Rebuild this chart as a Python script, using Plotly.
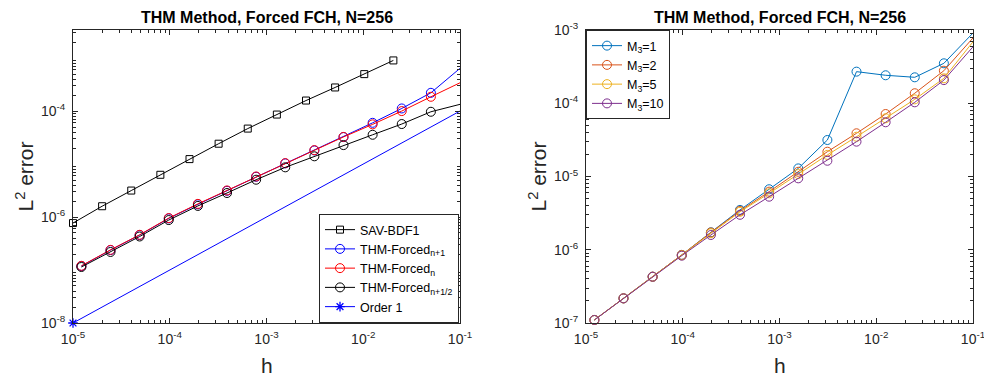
import plotly.graph_objects as go

W, H = 984, 376

# ---------------- data ----------------
h_thm = [1.220703125e-5, 2.44140625e-5, 4.8828125e-5, 9.765625e-5, 1.953125e-4,
         3.90625e-4, 7.8125e-4, 1.5625e-3, 3.125e-3, 6.25e-3, 1.25e-2, 2.5e-2, 5e-2, 1e-1]
h_sav = [1e-5, 2e-5, 4e-5, 8e-5, 1.6e-4, 3.2e-4, 6.4e-4, 1.28e-3, 2.56e-3,
         5.12e-3, 1.024e-2, 2.048e-2]

err_sav = [7.7e-7, 1.60e-6, 3.16e-6, 6.27e-6, 1.24e-5, 2.42e-5, 4.67e-5, 8.59e-5,
           1.58e-4, 2.79e-4, 4.98e-4, 9.03e-4]
err_np1 = [1.19e-7, 2.38e-7, 4.57e-7, 9.44e-7, 1.74e-6, 3.13e-6, 5.75e-6, 1.03e-5,
           1.81e-5, 3.23e-5, 6.0e-5, 1.12e-4, 2.21e-4, 6.4e-4]
err_n = [1.20e-7, 2.40e-7, 4.62e-7, 9.55e-7, 1.77e-6, 3.17e-6, 5.82e-6, 1.04e-5,
         1.83e-5, 3.25e-5, 5.61e-5, 1.0e-4, 1.86e-4, 3.42e-4]
err_nh = [1.14e-7, 2.19e-7, 4.29e-7, 8.77e-7, 1.62e-6, 2.84e-6, 5.06e-6, 8.67e-6,
          1.40e-5, 2.28e-5, 3.57e-5, 5.69e-5, 9.7e-5, 1.34e-4]
h_order1 = [1e-5, 1e-1]
err_order1 = [1e-8, 1e-4]

err_m1 = [1.10e-7, 2.17e-7, 4.29e-7, 8.5e-7, 1.73e-6, 3.5e-6, 6.7e-6, 1.29e-5,
          3.15e-5, 2.70e-4, 2.41e-4, 2.26e-4, 3.51e-4, 9.1e-4]
err_m2 = [1.10e-7, 2.17e-7, 4.29e-7, 8.5e-7, 1.72e-6, 3.4e-6, 6.21e-6, 1.16e-5,
          2.18e-5, 3.89e-5, 7.13e-5, 1.37e-4, 2.78e-4, 7.8e-4]
err_m5 = [1.10e-7, 2.17e-7, 4.28e-7, 8.4e-7, 1.68e-6, 3.3e-6, 5.9e-6, 1.08e-5,
          1.97e-5, 3.49e-5, 6.24e-5, 1.13e-4, 2.19e-4, 6.9e-4]
err_m10 = [1.10e-7, 2.17e-7, 4.28e-7, 8.3e-7, 1.59e-6, 3.0e-6, 5.3e-6, 9.44e-6,
           1.64e-5, 2.99e-5, 5.5e-5, 1.03e-4, 2.07e-4, 5.9e-4]

x_tick_vals = [1e-5, 1e-4, 1e-3, 1e-2, 1e-1]
x_tick_text = ["10<sup>-5</sup>", "10<sup>-4</sup>", "10<sup>-3</sup>", "10<sup>-2</sup>", "10<sup>-1</sup>"]
yl_tick_vals = [1e-8, 1e-6, 1e-4]
yl_tick_text = ["10<sup>-8</sup>", "10<sup>-6</sup>", "10<sup>-4</sup>"]
yr_tick_vals = [1e-7, 1e-6, 1e-5, 1e-4, 1e-3]
yr_tick_text = ["10<sup>-7</sup>", "10<sup>-6</sup>", "10<sup>-5</sup>", "10<sup>-4</sup>", "10<sup>-3</sup>"]

title_text = "THM Method, Forced FCH, N=256"

# ---------------- styling ----------------
FONT = "Liberation Sans, Arial, Helvetica, sans-serif"
AX = "#262626"


def minor_vals(lo, hi):
    out = []
    for d in range(lo, hi):
        for k in range(2, 10):
            out.append(k * 10.0 ** d)
    return out


fig = go.Figure()


def add(x, y, name, color, symbol, size, xa, ya, legend, lw=1.0, mlw=1.0):
    fig.add_trace(go.Scatter(
        x=x, y=y, name=name, mode="lines+markers",
        line=dict(color=color, width=lw),
        marker=dict(symbol=symbol, size=size, color=color,
                    line=dict(color=color, width=mlw)),
        xaxis=xa, yaxis=ya, legend=legend, cliponaxis=False))


add(h_sav, err_sav, "SAV-BDF1", "#000000", "square-open", 7, "x", "y", "legend")
add(h_thm, err_np1, "THM-Forced<sub>n+1</sub>", "#0000FF", "circle-open", 9, "x", "y", "legend")
add(h_thm, err_n, "THM-Forced<sub>n</sub>", "#FF0000", "circle-open", 9, "x", "y", "legend")
add(h_thm, err_nh, "THM-Forced<sub>n+1/2</sub>", "#000000", "circle-open", 9, "x", "y", "legend")
add(h_order1, err_order1, "Order 1", "#0000FF", "asterisk-open", 8, "x", "y", "legend", mlw=1.3)

add(h_thm, err_m1, "M<sub>3</sub>=1", "#0072BD", "circle-open", 9, "x2", "y2", "legend2")
add(h_thm, err_m2, "M<sub>3</sub>=2", "#D95319", "circle-open", 9, "x2", "y2", "legend2")
add(h_thm, err_m5, "M<sub>3</sub>=5", "#EDB120", "circle-open", 9, "x2", "y2", "legend2")
add(h_thm, err_m10, "M<sub>3</sub>=10", "#7E2F8E", "circle-open", 9, "x2", "y2", "legend2")


def axis(domain, anchor, rng, tv, tt, mlo, mhi, standoff=2):
    return dict(
        type="log", domain=domain, anchor=anchor, range=rng, automargin=False,
        tickmode="array", tickvals=tv, ticktext=tt,
        ticks="inside", ticklen=5, tickwidth=1, tickcolor=AX,
        minor=dict(tickmode="array", tickvals=minor_vals(mlo, mhi),
                   ticks="inside", ticklen=3, tickwidth=1, tickcolor=AX, showgrid=False),
        showline=True, linecolor=AX, linewidth=1, mirror="ticks",
        showgrid=False, zeroline=False,
        tickfont=dict(family=FONT, size=14, color=AX),
        ticklabelstandoff=standoff, ticklabeloverflow="allow",
    )


xl0, xl1 = 73 / W, 460 / W
xr0, xr1 = 586 / W, 973 / W
yb, yt = 1 - 323 / H, 1 - 30 / H

fig.update_layout(
    template="none",
    width=W, height=H, margin=dict(l=0, r=0, t=0, b=0, pad=0, autoexpand=False),
    paper_bgcolor="white", plot_bgcolor="white",
    font=dict(family=FONT, color="#000000"),
    xaxis=axis([xl0, xl1], "y", [-5, -1], x_tick_vals, x_tick_text, -5, -1, 3),
    yaxis=axis([yb, yt], "x", [-8, -2.47], yl_tick_vals, yl_tick_text, -8, -2, 4),
    xaxis2=axis([xr0, xr1], "y2", [-5, -1], x_tick_vals, x_tick_text, -5, -1, 3),
    yaxis2=axis([yb, yt], "x2", [-7, -3], yr_tick_vals, yr_tick_text, -7, -3, 4),
    legend=dict(x=459 / W, y=1 - 323 / H, xanchor="right", yanchor="bottom",
                bgcolor="white", bordercolor=AX, borderwidth=1,
                font=dict(family=FONT, size=12.5, color="#000000"),
                tracegroupgap=0),
    legend2=dict(x=586 / W, y=1 - 30 / H, xanchor="left", yanchor="top",
                 bgcolor="white", bordercolor=AX, borderwidth=1,
                 font=dict(family=FONT, size=12.5, color="#000000"),
                 tracegroupgap=0),
    showlegend=True,
)

ann = []
for cx in [(73 + 460) / 2, (586 + 973) / 2]:
    ann.append(dict(x=cx / W, y=1 - 17 / H, xref="paper", yref="paper",
                    text="<b>" + title_text + "</b>", showarrow=False,
                    xanchor="center", yanchor="middle",
                    font=dict(family=FONT, size=16, color="#000000")))
    ann.append(dict(x=cx / W, y=1 - 365 / H, xref="paper", yref="paper",
                    text="h", showarrow=False, xanchor="center", yanchor="middle",
                    font=dict(family=FONT, size=21, color=AX)))
for lx in [24, 537]:
    ann.append(dict(x=lx / W, y=1 - 176.5 / H, xref="paper", yref="paper",
                    text="L<sup>2</sup> error", showarrow=False, textangle=-90,
                    xanchor="center", yanchor="middle",
                    font=dict(family=FONT, size=21, color=AX)))
fig.update_layout(annotations=ann)

fig.write_html("out.html")
